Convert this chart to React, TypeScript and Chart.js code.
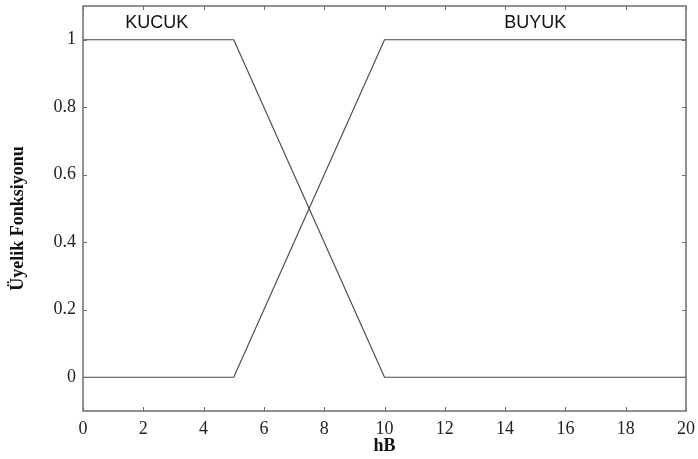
import React, { useEffect, useRef } from "react";
import { Chart, registerables } from "chart.js";

Chart.register(...registerables);

const kucukX = [0, 5, 10, 20];
const kucukY = [1, 1, 0, 0];
const buyukX = [0, 5, 10, 20];
const buyukY = [0, 0, 1, 1];
const xTicks = [0, 2, 4, 6, 8, 10, 12, 14, 16, 18, 20];
const yTicks = [0, 0.2, 0.4, 0.6, 0.8, 1];
const setNames = ["KUCUK", "BUYUK"];
const setLabelX = [2.45, 15.0];
const setLabelY = [1.05, 1.05];
const xTitle = "hB";
const yTitle = "Üyelik Fonksiyonu";

const frameColor = "#6e6e6e";
const lineColor = "#4a4a4a";
const serif = "'Liberation Serif', 'Times New Roman', serif";

const framePlugin = {
  id: "matlabFrame",
  afterDatasetsDraw(chart: any) {
    const { ctx, chartArea } = chart;
    const { left, right, top, bottom } = chartArea;
    const xs = chart.scales.x;
    const ys = chart.scales.y;
    ctx.save();
    ctx.strokeStyle = frameColor;
    ctx.lineWidth = 1.5;
    ctx.strokeRect(left, top, right - left, bottom - top);
    ctx.lineWidth = 1;
    const tl = 4;
    ctx.beginPath();
    xTicks.forEach((v) => {
      const px = Math.round(xs.getPixelForValue(v)) + 0.5;
      ctx.moveTo(px, bottom);
      ctx.lineTo(px, bottom - tl);
      ctx.moveTo(px, top);
      ctx.lineTo(px, top + tl);
    });
    yTicks.forEach((v) => {
      const py = Math.round(ys.getPixelForValue(v)) + 0.5;
      ctx.moveTo(left, py);
      ctx.lineTo(left + tl, py);
      ctx.moveTo(right, py);
      ctx.lineTo(right - tl, py);
    });
    ctx.stroke();

    ctx.fillStyle = "#111";
    ctx.font = "18px 'Liberation Sans', Arial, sans-serif";
    ctx.textAlign = "center";
    ctx.textBaseline = "middle";
    setNames.forEach((n, i) => {
      ctx.fillText(n, xs.getPixelForValue(setLabelX[i]), ys.getPixelForValue(setLabelY[i]));
    });

    ctx.font = "bold 18px " + serif;
    ctx.fillText(xTitle, (left + right) / 2, 446);
    ctx.translate(18, (top + bottom) / 2 + 10);
    ctx.rotate(-Math.PI / 2);
    ctx.fillText(yTitle, 0, 0);
    ctx.restore();
  },
};

export default function App() {
  const ref = useRef<HTMLCanvasElement | null>(null);
  useEffect(() => {
    if (!ref.current) return;
    const chart = new Chart(ref.current, {
      type: "line",
      data: {
        datasets: [
          {
            label: setNames[0],
            data: kucukX.map((x, i) => ({ x, y: kucukY[i] })),
            borderColor: lineColor,
            borderWidth: 1.2,
            pointRadius: 0,
            tension: 0,
          },
          {
            label: setNames[1],
            data: buyukX.map((x, i) => ({ x, y: buyukY[i] })),
            borderColor: lineColor,
            borderWidth: 1.2,
            pointRadius: 0,
            tension: 0,
          },
        ],
      },
      options: {
        responsive: false,
        animation: false,
        layout: { padding: { top: 6, right: 12, left: 0, bottom: 0 } },
        plugins: { legend: { display: false }, tooltip: { enabled: false } },
        scales: {
          x: {
            type: "linear",
            min: 0,
            max: 20,
            grid: { display: false, tickLength: 0 },
            border: { display: false },
            afterBuildTicks: (s: any) => {
              s.ticks = xTicks.map((v) => ({ value: v }));
            },
            afterFit: (s: any) => {
              s.height = 48;
              s.paddingLeft = 0;
              s.paddingRight = 0;
            },
            ticks: {
              padding: 7,
              maxRotation: 0,
              autoSkip: false,
              color: "#222",
              font: { family: serif, size: 18 },
              callback: (v: any) => String(v),
            },
          },
          y: {
            type: "linear",
            min: -0.1,
            max: 1.1,
            grid: { display: false, tickLength: 0 },
            border: { display: false },
            afterBuildTicks: (s: any) => {
              s.ticks = yTicks.map((v) => ({ value: v }));
            },
            afterFit: (s: any) => {
              s.width = 83;
              s.paddingTop = 0;
              s.paddingBottom = 0;
            },
            ticks: {
              padding: 7,
              autoSkip: false,
              color: "#222",
              font: { family: serif, size: 18 },
              callback: (v: any) => String(Math.round(v * 10) / 10),
            },
          },
        },
      },
      plugins: [framePlugin],
    });
    return () => chart.destroy();
  }, []);
  return (
    <div style={{ position: "absolute", left: 0, top: 0, width: 698, height: 459, background: "#fff" }}>
      <canvas ref={ref} width={698} height={459} />
    </div>
  );
}
